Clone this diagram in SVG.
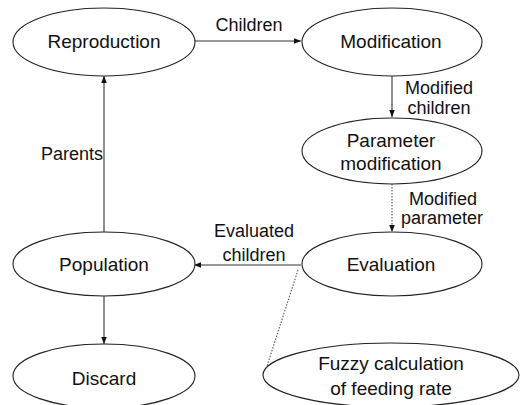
<svg xmlns="http://www.w3.org/2000/svg" width="528" height="405" viewBox="0 0 528 405">
<style>
.n ellipse{fill:#fff;stroke:#222;stroke-width:1.1}
.t{font-family:"Liberation Sans",Arial,sans-serif;font-size:19px;fill:#111;text-anchor:middle}
.l{font-family:"Liberation Sans",Arial,sans-serif;font-size:18px;fill:#111;text-anchor:middle}
.e{stroke:#333;stroke-width:1.1;fill:none}
.d{stroke:#555;stroke-width:1.1;fill:none;stroke-dasharray:1.5 1.5}
</style>
<defs>
<marker id="a" viewBox="0 0 10 10" refX="10" refY="5" markerWidth="7" markerHeight="7" orient="auto" markerUnits="userSpaceOnUse">
<path d="M0,1 L10,5 L0,9 Z" fill="#111"/>
</marker>
</defs>
<rect width="528" height="405" fill="#fff"/>
<g id="connectors">
<line class="e" x1="194" y1="41" x2="301" y2="41" marker-end="url(#a)"/>
<line class="e" x1="392" y1="76" x2="392" y2="117" marker-end="url(#a)"/>
<line class="d" x1="392" y1="184" x2="392" y2="232" marker-end="url(#a)"/>
<line class="e" x1="301" y1="265" x2="194" y2="265" marker-end="url(#a)"/>
<line class="e" x1="104" y1="232" x2="104" y2="76" marker-end="url(#a)"/>
<line class="e" x1="104" y1="296" x2="104" y2="344" marker-end="url(#a)"/>
<line class="d" x1="298" y1="270" x2="267" y2="366"/>
<text class="l" x="249" y="31">Children</text>
<text class="l" x="439" y="94">Modified</text>
<text class="l" x="439" y="114">children</text>
<text class="l" x="443" y="205">Modified</text>
<text class="l" x="442" y="224">parameter</text>
<text class="l" x="254" y="237">Evaluated</text>
<text class="l" x="254" y="261">children</text>
<text class="l" x="72" y="160">Parents</text>
</g>
<g id="reproduction" class="n">
<ellipse cx="104" cy="42" rx="91" ry="34"/>
<text class="t" x="104" y="48">Reproduction</text>
</g>
<g id="modification" class="n">
<ellipse cx="392" cy="42" rx="90" ry="34"/>
<text class="t" x="391" y="48">Modification</text>
</g>
<g id="parameter-modification" class="n">
<ellipse cx="392" cy="151" rx="90" ry="33"/>
<text class="t" x="391" y="147">Parameter</text>
<text class="t" x="391" y="170">modification</text>
</g>
<g id="evaluation" class="n">
<ellipse cx="392" cy="264" rx="90" ry="32"/>
<text class="t" x="391" y="271">Evaluation</text>
</g>
<g id="population" class="n">
<ellipse cx="104" cy="264" rx="91" ry="32"/>
<text class="t" x="104" y="271">Population</text>
</g>
<g id="discard" class="n">
<ellipse cx="104" cy="376" rx="91" ry="32"/>
<text class="t" x="104" y="385">Discard</text>
</g>
<g id="fuzzy" class="n">
<ellipse cx="391" cy="375" rx="128" ry="32"/>
<text class="t" x="391" y="370">Fuzzy calculation</text>
<text class="t" x="391" y="395">of feeding rate</text>
</g>
</svg>
